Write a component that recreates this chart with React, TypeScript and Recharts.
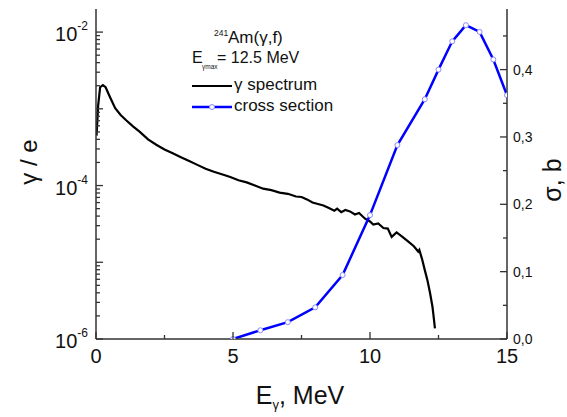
import React from 'react';
import { ComposedChart, Line, XAxis, YAxis } from 'recharts';

// gamma spectrum (E in MeV, gamma per electron)
const spectrumE = [
  0.02, 0.08, 0.15, 0.25, 0.35, 0.5, 0.7, 0.9, 1.1, 1.35, 1.6, 1.9, 2.2, 2.5, 2.8, 3.1, 3.4, 3.7,
  4.0, 4.3, 4.65, 4.9, 5.2, 5.5, 5.8, 6.1, 6.4, 6.7, 7.0, 7.3, 7.5, 7.7, 7.9, 8.1, 8.3, 8.5, 8.7,
  8.8, 8.95, 9.1, 9.27, 9.45, 9.6, 9.82, 10.0, 10.12, 10.3, 10.49, 10.65, 10.79, 10.97, 11.15,
  11.4, 11.6, 11.76, 11.8, 11.9, 12.0, 12.1, 12.19, 12.28, 12.31, 12.37,
];
const spectrumY = [
  4.47e-4, 1.12e-3, 1.91e-3, 2.04e-3, 1.91e-3, 1.45e-3, 1.02e-3, 8.3e-4, 7.1e-4, 5.9e-4, 5.0e-4,
  4.0e-4, 3.4e-4, 2.95e-4, 2.63e-4, 2.34e-4, 2.09e-4, 1.86e-4, 1.66e-4, 1.51e-4, 1.38e-4, 1.29e-4,
  1.17e-4, 1.1e-4, 1.0e-4, 9.1e-5, 8.7e-5, 8.1e-5, 7.8e-5, 7.2e-5, 7.1e-5, 6.6e-5, 6.0e-5, 5.75e-5,
  5.5e-5, 5.1e-5, 4.7e-5, 5.0e-5, 4.5e-5, 4.8e-5, 4.6e-5, 4.2e-5, 4.4e-5, 3.7e-5, 3.4e-5, 3.1e-5,
  3.2e-5, 2.8e-5, 2.75e-5, 2.14e-5, 2.45e-5, 2.19e-5, 1.86e-5, 1.62e-5, 1.38e-5, 1.45e-5, 1.1e-5,
  7.9e-6, 5.75e-6, 4.0e-6, 2.63e-6, 2.14e-6, 1.38e-6,
];

// fission cross section (E in MeV, sigma in b)
const crossE = [5, 6, 7, 8, 9, 10, 11, 12, 12.5, 13, 13.5, 14, 14.5, 15];
const crossSigma = [0, 0.013, 0.025, 0.047, 0.095, 0.184, 0.288, 0.356, 0.4, 0.442, 0.466, 0.456, 0.415, 0.362];

// ticks
const xTicks = [0, 2.5, 5, 7.5, 10, 12.5, 15];
const xLabels = [0, 5, 10, 15];
const yLeftTicks = [
  1e-6, 2e-6, 3e-6, 4e-6, 5e-6, 6e-6, 7e-6, 8e-6, 9e-6,
  1e-5, 2e-5, 3e-5, 4e-5, 5e-5, 6e-5, 7e-5, 8e-5, 9e-5,
  1e-4, 2e-4, 3e-4, 4e-4, 5e-4, 6e-4, 7e-4, 8e-4, 9e-4,
  1e-3, 2e-3, 3e-3, 4e-3, 5e-3, 6e-3, 7e-3, 8e-3, 9e-3,
  1e-2,
];
const yLeftLabels = [
  { v: 1e-6, exp: '-6' },
  { v: 1e-4, exp: '-4' },
  { v: 1e-2, exp: '-2' },
];
const yRightTicks = [0, 0.05, 0.1, 0.15, 0.2, 0.25, 0.3, 0.35, 0.4, 0.45];
const yRightLabels = ['0,0', '0,1', '0,2', '0,3', '0,4'];

const spectrum = spectrumE.map((e, i) => ({ e, y: spectrumY[i] }));
const cross = crossE.map((e, i) => ({ e, s: crossSigma[i] }));

const AX = '#333';
const TXT = '#111';
const FONT = '"Liberation Sans", Arial, sans-serif';

const BottomTick = (props: any) => {
  const { x, y, payload } = props;
  const v = payload.value;
  const major = xLabels.includes(v);
  return (
    <g>
      <line x1={x} y1={y} x2={x} y2={y - (major ? 7 : 4)} stroke={AX} strokeWidth={1.3} />
      {major && (
        <text x={x} y={y + 24} textAnchor="middle" fontSize={20} fill={TXT} fontFamily={FONT}>
          {v}
        </text>
      )}
    </g>
  );
};

const TopTick = (props: any) => {
  const { x, y, payload } = props;
  const major = xLabels.includes(payload.value);
  return <line x1={x} y1={y} x2={x} y2={y + (major ? 7 : 4)} stroke={AX} strokeWidth={1.3} />;
};

const LeftTick = (props: any) => {
  const { x, y, payload } = props;
  const v = payload.value;
  const lab = yLeftLabels.find((l) => Math.abs(l.v - v) / l.v < 1e-6);
  const lg = Math.log10(v);
  const decade = Math.abs(lg - Math.round(lg)) < 1e-6;
  return (
    <g>
      <line x1={x} y1={y} x2={x + (decade ? 7 : 4)} y2={y} stroke={AX} strokeWidth={1.3} />
      {lab && (
        <text x={x - 8} y={y + 9} textAnchor="end" fontSize={20} fill={TXT} fontFamily={FONT}>
          10
          <tspan fontSize={12} dy={-11}>
            {lab.exp}
          </tspan>
        </text>
      )}
    </g>
  );
};

const RightTick = (props: any) => {
  const { x, y, index } = props;
  const major = index % 2 === 0;
  return (
    <g>
      <line x1={x} y1={y} x2={x - (major ? 7 : 4)} y2={y} stroke={AX} strokeWidth={1.3} />
      {major && (
        <text x={x + 6} y={y + 5} textAnchor="start" fontSize={14} fill={TXT} fontFamily={FONT}>
          {yRightLabels[index / 2]}
        </text>
      )}
    </g>
  );
};

const OpenDot = (props: any) => {
  const { cx, cy, index } = props;
  return <circle key={index} cx={cx} cy={cy} r={2.5} fill="#fff" stroke="#8a8aff" strokeWidth={1} />;
};

export default function App() {
  return (
    <div style={{ position: 'absolute', left: 0, top: 0, width: 567, height: 417, background: '#fff' }}>
      <ComposedChart
        width={567}
        height={417}
        margin={{ top: 9, right: 0, bottom: 0, left: 0 }}
        style={{ fontFamily: FONT }}
      >
        <XAxis
          xAxisId="b"
          dataKey="e"
          type="number"
          domain={[0, 15]}
          ticks={xTicks}
          orientation="bottom"
          height={78}
          tickSize={0}
          tickMargin={0}
          tickLine={false}
          tick={<BottomTick />}
          axisLine={{ stroke: AX, strokeWidth: 1.5 }}
          interval={0}
          allowDataOverflow
        />
        <XAxis
          xAxisId="t"
          dataKey="e"
          type="number"
          domain={[0, 15]}
          ticks={xTicks}
          orientation="top"
          height={0}
          tickSize={0}
          tickMargin={0}
          tickLine={false}
          tick={<TopTick />}
          axisLine={{ stroke: AX, strokeWidth: 1.5 }}
          interval={0}
          allowDataOverflow
        />
        <YAxis
          yAxisId="l"
          orientation="left"
          type="number"
          scale="log"
          domain={[1e-6, 2e-2]}
          ticks={yLeftTicks}
          width={96}
          tickSize={0}
          tickMargin={0}
          tickLine={false}
          tick={<LeftTick />}
          axisLine={{ stroke: AX, strokeWidth: 1.5 }}
          interval={0}
          allowDataOverflow
        />
        <YAxis
          yAxisId="r"
          orientation="right"
          type="number"
          domain={[0, 0.49]}
          ticks={yRightTicks}
          width={60}
          tickSize={0}
          tickMargin={0}
          tickLine={false}
          tick={<RightTick />}
          axisLine={{ stroke: AX, strokeWidth: 1.5 }}
          interval={0}
          allowDataOverflow
        />
        <Line
          xAxisId="b"
          yAxisId="l"
          data={spectrum}
          dataKey="y"
          type="linear"
          stroke="#000"
          strokeWidth={2.2}
          dot={false}
          isAnimationActive={false}
        />
        <Line
          xAxisId="b"
          yAxisId="r"
          data={cross}
          dataKey="s"
          type="linear"
          stroke="#0000ff"
          strokeWidth={2.5}
          dot={<OpenDot />}
          isAnimationActive={false}
        />
      </ComposedChart>
      <svg
        width={567}
        height={417}
        style={{ position: 'absolute', left: 0, top: 0, pointerEvents: 'none' }}
        fontFamily={FONT}
      >
        <text x={214} y={36} fontSize={8.5} fill={TXT}>241</text>
        <text x={228} y={43} fontSize={17} fill={TXT}>Am(γ,f)</text>
        <text x={192} y={63} fontSize={16} fill={TXT}>E</text>
        <text x={202} y={69} fontSize={6.5} fill={TXT}>γmax</text>
        <text x={217} y={63} fontSize={16} fill={TXT}>= 12.5 MeV</text>
        <line x1={192} y1={86} x2={232} y2={86} stroke="#000" strokeWidth={2.2} />
        <text x={234} y={90} fontSize={17} fill={TXT}>γ spectrum</text>
        <line x1={192} y1={107} x2={232} y2={107} stroke="#0000ff" strokeWidth={2.5} />
        <circle cx={212} cy={107} r={2.5} fill="#fff" stroke="#8a8aff" strokeWidth={1} />
        <text x={234} y={111} fontSize={17} fill={TXT}>cross section</text>

        <text x={37} y={162} fontSize={24} fill={TXT} textAnchor="middle" transform="rotate(-90 37 162)">
          γ / e
        </text>
        <text x={561} y={180} fontSize={25} fill={TXT} textAnchor="middle" transform="rotate(-90 561 180)">
          σ, b
        </text>
        <text x={300} y={404} fontSize={25} fill={TXT} textAnchor="middle">
          E<tspan fontSize={13} dy={5}>γ</tspan>
          <tspan dy={-5}>, MeV</tspan>
        </text>
      </svg>
    </div>
  );
}
